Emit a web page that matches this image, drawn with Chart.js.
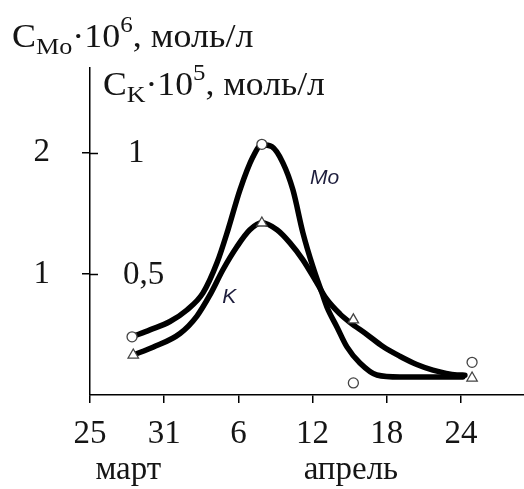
<!DOCTYPE html>
<html>
<head>
<meta charset="utf-8">
<script src="https://cdn.jsdelivr.net/npm/chart.js@4/dist/chart.umd.min.js"></script>
<style>
  html, body { margin: 0; padding: 0; background: #fff; }
</style>
</head>
<body>
<canvas id="chart" width="524" height="489"></canvas>
<script>
// x = days counted from 25 March
const dayTicks = [0, 6, 12, 18, 24, 30];
const dayLabels = ["25", "31", "6", "12", "18", "24"];
const moTicks = [1, 2];
const kTicks = [0.5, 1];
const kTickLabels = ["0,5", "1"];

// measured points (Mo in 10^-6 mol/l, K in 10^-5 mol/l)
const moDays = [3.4, 13.9, 21.3, 30.9];
const moValues = [0.48, 2.07, 0.10, 0.27];
const kDays = [3.5, 13.9, 21.3, 30.9];
const kValues = [0.165, 0.71, 0.31, 0.07];

// hand-drawn smooth curves
const moCurveDays = [3.4, 4.85, 6.47, 7.84, 9.14, 10.27, 11.16, 12.13, 13.18, 13.9, 14.71, 15.6, 16.41, 17.22, 18.03, 18.76, 19.16, 19.97, 20.78, 21.83, 23.2, 25.06, 27.73, 30.15];
const moCurveValues = [0.48, 0.538, 0.607, 0.702, 0.843, 1.091, 1.364, 1.694, 1.967, 2.066, 2.05, 1.917, 1.694, 1.339, 1.058, 0.843, 0.727, 0.562, 0.397, 0.264, 0.165, 0.149, 0.149, 0.149];
const kCurveDays = [3.48, 5.09, 7.28, 8.65, 9.7, 10.75, 11.88, 12.93, 13.9, 15.12, 16.17, 17.22, 18.35, 19.08, 20.21, 21.02, 22.39, 23.69, 25.06, 26.43, 27.73, 29.67, 30.32];
const kCurveValues = [0.165, 0.197, 0.254, 0.326, 0.413, 0.517, 0.612, 0.682, 0.711, 0.682, 0.628, 0.558, 0.463, 0.40, 0.335, 0.30, 0.25, 0.20, 0.16, 0.126, 0.103, 0.083, 0.082];

const pts = (xs, ys) => xs.map((x, i) => ({ x: x, y: ys[i] }));
const serif = "'Liberation Serif', 'Times New Roman', serif";
const ink = "#151515";

// rich text: [text, size, baseline shift], slightly stretched like the scan
function drawRich(ctx, x, y, parts, stretch) {
  ctx.save();
  ctx.translate(x, y);
  ctx.scale(stretch, 1);
  ctx.textBaseline = "alphabetic";
  ctx.textAlign = "left";
  let cx = 0;
  for (const [t, size, dy] of parts) {
    ctx.font = size + "px " + serif;
    ctx.fillText(t, cx, dy);
    cx += ctx.measureText(t).width;
  }
  ctx.restore();
}

const extras = {
  id: "extras",
  afterDraw(chart) {
    const ctx = chart.ctx;
    const xs = chart.scales.x, ys = chart.scales.y, yk = chart.scales.yK;
    ctx.save();
    ctx.fillStyle = ink;
    ctx.strokeStyle = "#000";

    // inner half of the y ticks
    ctx.lineWidth = 1.5;
    moTicks.forEach(v => {
      const py = Math.round(ys.getPixelForValue(v)) + 0.5;
      ctx.beginPath();
      ctx.moveTo(xs.left, py);
      ctx.lineTo(xs.left + 8, py);
      ctx.stroke();
    });

    // K scale labels inside the plot
    ctx.font = "33px " + serif;
    ctx.textBaseline = "middle";
    ctx.textAlign = "left";
    kTicks.forEach((v, i) => {
      ctx.fillText(kTickLabels[i], xs.left + (i === 0 ? 33 : 38), yk.getPixelForValue(v) + 1);
    });

    // axis titles
    drawRich(ctx, 12, 47, [["C", 33, 0], ["Mo", 24, 7], ["·", 33, 0], ["10", 33, 0], ["6", 23, -15], [", моль/л", 33, 0]], 1.09);
    drawRich(ctx, 103, 95, [["C", 33, 0], ["K", 24, 7], ["·", 33, 0], ["10", 33, 0], ["5", 23, -15], [", моль/л", 33, 0]], 1.08);

    // months
    ctx.font = "33px " + serif;
    ctx.textAlign = "center";
    ctx.textBaseline = "alphabetic";
    ctx.fillText("март", xs.getPixelForValue(3.1), 479);
    ctx.fillText("апрель", xs.getPixelForValue(21.1), 479);

    // curve names
    ctx.font = "italic 21px 'Liberation Sans', Arial, sans-serif";
    ctx.fillStyle = "#1d1d3c";
    ctx.textAlign = "left";
    ctx.textBaseline = "middle";
    ctx.fillText("Mo", xs.getPixelForValue(17.8), ys.getPixelForValue(1.79));
    ctx.fillText("K", xs.getPixelForValue(10.7), ys.getPixelForValue(0.81));
    ctx.restore();
  }
};

new Chart(document.getElementById("chart"), {
  type: "line",
  data: {
    datasets: [
      {
        label: "Mo точки",
        data: pts(moDays, moValues),
        yAxisID: "y",
        showLine: false,
        pointStyle: "circle",
        pointRadius: 5,
        pointBackgroundColor: "#fff",
        pointBorderColor: "#444",
        pointBorderWidth: 1.3,
        order: 0,
      },
      {
        label: "K точки",
        data: pts(kDays, kValues),
        yAxisID: "yK",
        showLine: false,
        pointStyle: "triangle",
        pointRadius: 6,
        pointBackgroundColor: "#fff",
        pointBorderColor: "#444",
        pointBorderWidth: 1.3,
        order: 0,
      },
      {
        label: "Mo",
        data: pts(moCurveDays, moCurveValues),
        yAxisID: "y",
        borderColor: "#000",
        borderWidth: 5.5,
        pointRadius: 0,
        cubicInterpolationMode: "monotone",
        borderCapStyle: "round",
        order: 1,
      },
      {
        label: "K",
        data: pts(kCurveDays, kCurveValues),
        yAxisID: "yK",
        borderColor: "#000",
        borderWidth: 5.5,
        pointRadius: 0,
        cubicInterpolationMode: "monotone",
        borderCapStyle: "round",
        order: 1,
      },
    ],
  },
  options: {
    responsive: false,
    animation: false,
    devicePixelRatio: 1,
    layout: { autoPadding: false, padding: { top: 68, right: 0, left: 0, bottom: 0 } },
    plugins: { legend: { display: false }, tooltip: { enabled: false } },
    scales: {
      x: {
        type: "linear",
        min: 0,
        max: 35.1,
        afterFit(s) { s.height = 94; },
        afterBuildTicks(s) { s.ticks = dayTicks.map(v => ({ value: v })); },
        ticks: {
          callback: v => dayLabels[dayTicks.indexOf(v)],
          font: { family: serif, size: 33 },
          color: ink,
          padding: 12,
          maxRotation: 0,
          autoSkip: false,
        },
        grid: { drawOnChartArea: false, tickLength: 8, color: "#000", lineWidth: 1.5 },
        border: { color: "#000", width: 1.5 },
      },
      y: {
        min: 0,
        max: 2.7,
        afterFit(s) { s.width = 90; },
        afterBuildTicks(s) { s.ticks = moTicks.map(v => ({ value: v })); },
        ticks: {
          font: { family: serif, size: 33 },
          color: ink,
          padding: 32,
        },
        grid: { drawOnChartArea: false, tickLength: 8, color: "#000", lineWidth: 1.5 },
        border: { color: "#000", width: 1.5 },
      },
      yK: {
        min: 0,
        max: 1.35,
        display: false,
      },
    },
  },
  plugins: [extras],
});
</script>
</body>
</html>
